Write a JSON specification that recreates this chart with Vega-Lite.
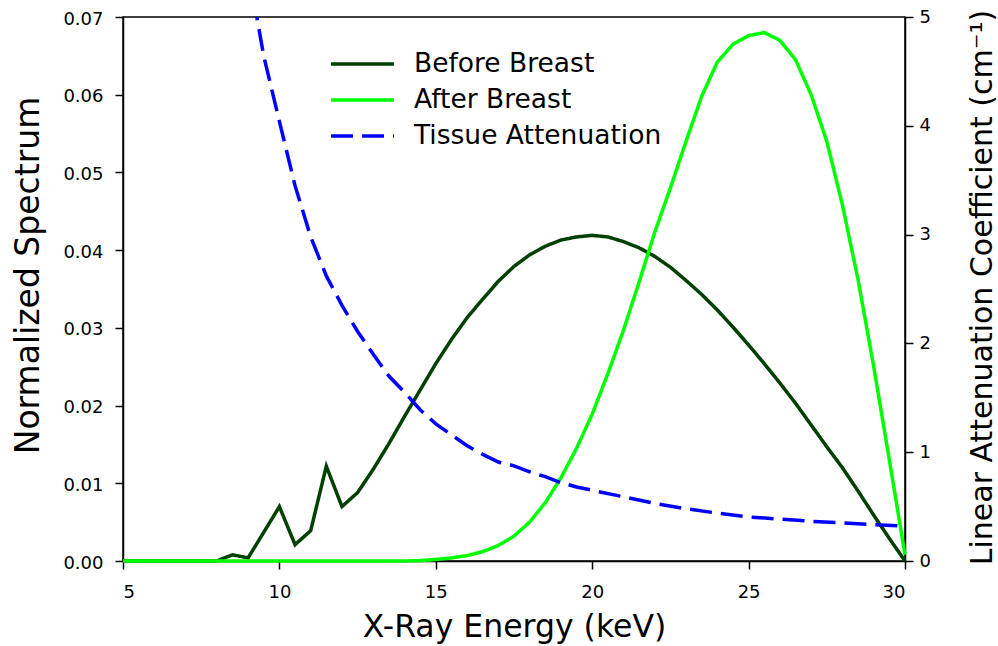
{
  "$schema": "https://vega.github.io/schema/vega-lite/v6.json",
  "width": 782,
  "height": 544,
  "autosize": {"type": "none"},
  "padding": {"left": 123, "top": 17, "right": 93, "bottom": 85},
  "background": "white",
  "config": {
    "view": {"stroke": "black", "strokeWidth": 1.5},
    "font": "DejaVu Sans",
    "axis": {
      "grid": false,
      "domainColor": "black",
      "domainWidth": 1.5,
      "tickColor": "black",
      "tickWidth": 1.5,
      "tickSize": 8,
      "labelFont": "DejaVu Sans",
      "labelFontSize": 18,
      "labelColor": "black",
      "titleFont": "DejaVu Sans",
      "titleFontWeight": "normal",
      "titleColor": "black"
    },
    "legend": {
      "orient": "none",
      "legendX": 206,
      "legendY": 30,
      "padding": 0,
      "symbolType": "stroke",
      "symbolSize": 3969,
      "symbolStrokeWidth": 3.5,
      "labelFont": "DejaVu Sans",
      "labelFontSize": 26.5,
      "labelColor": "black",
      "labelOffset": 18,
      "labelLimit": 500,
      "clipHeight": 34,
      "rowPadding": 2,
      "title": null
    }
  },
  "data": {
    "values": [
      {"e": 5, "s": "Before Breast", "v": 0},
      {"e": 5.5, "s": "Before Breast", "v": 0},
      {"e": 6, "s": "Before Breast", "v": 0},
      {"e": 6.5, "s": "Before Breast", "v": 0},
      {"e": 7, "s": "Before Breast", "v": 0},
      {"e": 7.5, "s": "Before Breast", "v": 0},
      {"e": 8, "s": "Before Breast", "v": 0},
      {"e": 8.5, "s": "Before Breast", "v": 0.0008},
      {"e": 9, "s": "Before Breast", "v": 0.0004},
      {"e": 9.5, "s": "Before Breast", "v": 0.0037},
      {"e": 10, "s": "Before Breast", "v": 0.0070},
      {"e": 10.5, "s": "Before Breast", "v": 0.0021},
      {"e": 11, "s": "Before Breast", "v": 0.0039},
      {"e": 11.5, "s": "Before Breast", "v": 0.0122},
      {"e": 12, "s": "Before Breast", "v": 0.0070},
      {"e": 12.5, "s": "Before Breast", "v": 0.0088},
      {"e": 13, "s": "Before Breast", "v": 0.0118},
      {"e": 13.5, "s": "Before Breast", "v": 0.0151},
      {"e": 14, "s": "Before Breast", "v": 0.0186},
      {"e": 14.5, "s": "Before Breast", "v": 0.0220},
      {"e": 15, "s": "Before Breast", "v": 0.0254},
      {"e": 15.5, "s": "Before Breast", "v": 0.0285},
      {"e": 16, "s": "Before Breast", "v": 0.0313},
      {"e": 16.5, "s": "Before Breast", "v": 0.0337},
      {"e": 17, "s": "Before Breast", "v": 0.0360},
      {"e": 17.5, "s": "Before Breast", "v": 0.0379},
      {"e": 18, "s": "Before Breast", "v": 0.0394},
      {"e": 18.5, "s": "Before Breast", "v": 0.0405},
      {"e": 19, "s": "Before Breast", "v": 0.0413},
      {"e": 19.5, "s": "Before Breast", "v": 0.0417},
      {"e": 20, "s": "Before Breast", "v": 0.0419},
      {"e": 20.5, "s": "Before Breast", "v": 0.0417},
      {"e": 21, "s": "Before Breast", "v": 0.0411},
      {"e": 21.5, "s": "Before Breast", "v": 0.0403},
      {"e": 22, "s": "Before Breast", "v": 0.0392},
      {"e": 22.5, "s": "Before Breast", "v": 0.0378},
      {"e": 23, "s": "Before Breast", "v": 0.0361},
      {"e": 23.5, "s": "Before Breast", "v": 0.0343},
      {"e": 24, "s": "Before Breast", "v": 0.0323},
      {"e": 24.5, "s": "Before Breast", "v": 0.0301},
      {"e": 25, "s": "Before Breast", "v": 0.0278},
      {"e": 25.5, "s": "Before Breast", "v": 0.0254},
      {"e": 26, "s": "Before Breast", "v": 0.0229},
      {"e": 26.5, "s": "Before Breast", "v": 0.0203},
      {"e": 27, "s": "Before Breast", "v": 0.0175},
      {"e": 27.5, "s": "Before Breast", "v": 0.0147},
      {"e": 28, "s": "Before Breast", "v": 0.0120},
      {"e": 28.5, "s": "Before Breast", "v": 0.0090},
      {"e": 29, "s": "Before Breast", "v": 0.0059},
      {"e": 29.5, "s": "Before Breast", "v": 0.0029},
      {"e": 30, "s": "Before Breast", "v": 0.0},
      {"e": 5, "s": "After Breast", "v": 0},
      {"e": 6, "s": "After Breast", "v": 0},
      {"e": 7, "s": "After Breast", "v": 0},
      {"e": 8, "s": "After Breast", "v": 0},
      {"e": 9, "s": "After Breast", "v": 0},
      {"e": 10, "s": "After Breast", "v": 0},
      {"e": 11, "s": "After Breast", "v": 0},
      {"e": 12, "s": "After Breast", "v": 0},
      {"e": 13, "s": "After Breast", "v": 0},
      {"e": 14, "s": "After Breast", "v": 0},
      {"e": 14.5, "s": "After Breast", "v": 0.00005},
      {"e": 15, "s": "After Breast", "v": 0.0002},
      {"e": 15.5, "s": "After Breast", "v": 0.0004},
      {"e": 16, "s": "After Breast", "v": 0.0007},
      {"e": 16.5, "s": "After Breast", "v": 0.0012},
      {"e": 17, "s": "After Breast", "v": 0.0020},
      {"e": 17.5, "s": "After Breast", "v": 0.0032},
      {"e": 18, "s": "After Breast", "v": 0.0050},
      {"e": 18.5, "s": "After Breast", "v": 0.0075},
      {"e": 19, "s": "After Breast", "v": 0.0107},
      {"e": 19.5, "s": "After Breast", "v": 0.0145},
      {"e": 20, "s": "After Breast", "v": 0.0189},
      {"e": 20.5, "s": "After Breast", "v": 0.0241},
      {"e": 21, "s": "After Breast", "v": 0.0297},
      {"e": 21.5, "s": "After Breast", "v": 0.0359},
      {"e": 22, "s": "After Breast", "v": 0.0423},
      {"e": 22.5, "s": "After Breast", "v": 0.0480},
      {"e": 23, "s": "After Breast", "v": 0.0540},
      {"e": 23.5, "s": "After Breast", "v": 0.0598},
      {"e": 24, "s": "After Breast", "v": 0.0642},
      {"e": 24.5, "s": "After Breast", "v": 0.0665},
      {"e": 25, "s": "After Breast", "v": 0.0676},
      {"e": 25.5, "s": "After Breast", "v": 0.0680},
      {"e": 26, "s": "After Breast", "v": 0.0670},
      {"e": 26.5, "s": "After Breast", "v": 0.0645},
      {"e": 27, "s": "After Breast", "v": 0.0600},
      {"e": 27.5, "s": "After Breast", "v": 0.0540},
      {"e": 28, "s": "After Breast", "v": 0.0458},
      {"e": 28.5, "s": "After Breast", "v": 0.0362},
      {"e": 29, "s": "After Breast", "v": 0.0250},
      {"e": 29.5, "s": "After Breast", "v": 0.0130},
      {"e": 30, "s": "After Breast", "v": 0.0008},
      {"e": 9, "s": "Tissue Attenuation", "v": 5.45},
      {"e": 9.5, "s": "Tissue Attenuation", "v": 4.64},
      {"e": 10, "s": "Tissue Attenuation", "v": 4.04},
      {"e": 10.5, "s": "Tissue Attenuation", "v": 3.45},
      {"e": 11, "s": "Tissue Attenuation", "v": 2.98},
      {"e": 11.5, "s": "Tissue Attenuation", "v": 2.62},
      {"e": 12, "s": "Tissue Attenuation", "v": 2.35},
      {"e": 12.5, "s": "Tissue Attenuation", "v": 2.11},
      {"e": 13, "s": "Tissue Attenuation", "v": 1.90},
      {"e": 13.5, "s": "Tissue Attenuation", "v": 1.70},
      {"e": 14, "s": "Tissue Attenuation", "v": 1.55},
      {"e": 14.5, "s": "Tissue Attenuation", "v": 1.39},
      {"e": 15, "s": "Tissue Attenuation", "v": 1.26},
      {"e": 15.5, "s": "Tissue Attenuation", "v": 1.16},
      {"e": 16, "s": "Tissue Attenuation", "v": 1.06},
      {"e": 16.5, "s": "Tissue Attenuation", "v": 0.98},
      {"e": 17, "s": "Tissue Attenuation", "v": 0.91},
      {"e": 17.5, "s": "Tissue Attenuation", "v": 0.875},
      {"e": 18, "s": "Tissue Attenuation", "v": 0.82},
      {"e": 18.5, "s": "Tissue Attenuation", "v": 0.775},
      {"e": 19, "s": "Tissue Attenuation", "v": 0.72},
      {"e": 19.5, "s": "Tissue Attenuation", "v": 0.68},
      {"e": 20, "s": "Tissue Attenuation", "v": 0.65},
      {"e": 21, "s": "Tissue Attenuation", "v": 0.59},
      {"e": 22, "s": "Tissue Attenuation", "v": 0.53},
      {"e": 23, "s": "Tissue Attenuation", "v": 0.48},
      {"e": 24, "s": "Tissue Attenuation", "v": 0.44},
      {"e": 25, "s": "Tissue Attenuation", "v": 0.405},
      {"e": 26, "s": "Tissue Attenuation", "v": 0.385},
      {"e": 27, "s": "Tissue Attenuation", "v": 0.365},
      {"e": 28, "s": "Tissue Attenuation", "v": 0.35},
      {"e": 29, "s": "Tissue Attenuation", "v": 0.335},
      {"e": 30, "s": "Tissue Attenuation", "v": 0.32}
    ]
  },
  "layer": [
    {
      "layer": [
        {
          "transform": [{"filter": "datum.s === 'Before Breast'"}],
          "mark": {"type": "line", "strokeWidth": 3.5},
          "encoding": {
            "x": {
              "field": "e", "type": "quantitative",
              "scale": {"domain": [5, 30], "nice": false, "zero": false},
              "axis": {
                "title": "X-Ray Energy (keV)", "titleFontSize": 31.5,
                "values": [5, 10, 15, 20, 25, 30], "labelPadding": 14,
                "titleX": 391, "titleY": 75, "titleBaseline": "alphabetic"
              }
            },
            "y": {
              "field": "v", "type": "quantitative",
              "scale": {"domain": [0, 0.07], "nice": false},
              "axis": {
                "title": "Normalized Spectrum", "titleFontSize": 33,
                "values": [0, 0.01, 0.02, 0.03, 0.04, 0.05, 0.06, 0.07],
                "format": ".2f", "labelPadding": 12, "labelOffset": 2,
                "titleX": -85, "titleY": 258, "titleBaseline": "alphabetic", "titleAngle": -90
              }
            },
            "color": {
              "field": "s", "type": "nominal",
              "scale": {"domain": ["Before Breast", "After Breast", "Tissue Attenuation"], "range": ["#004000", "#00FF00", "#0000FF"]}
            },
            "strokeDash": {
              "field": "s", "type": "nominal",
              "scale": {"domain": ["Before Breast", "After Breast", "Tissue Attenuation"], "range": [[1, 0], [1, 0], [22, 9]]}
            }
          }
        },
        {
          "transform": [{"filter": "datum.s === 'After Breast'"}],
          "mark": {"type": "line", "strokeWidth": 3.5},
          "encoding": {
            "x": {"field": "e", "type": "quantitative"},
            "y": {"field": "v", "type": "quantitative"},
            "color": {"field": "s", "type": "nominal"},
            "strokeDash": {"field": "s", "type": "nominal"}
          }
        }
      ]
    },
    {
      "transform": [{"filter": "datum.s === 'Tissue Attenuation'"}],
      "mark": {"type": "line", "strokeWidth": 3.5, "clip": true},
      "encoding": {
        "x": {"field": "e", "type": "quantitative"},
        "y": {
          "field": "v", "type": "quantitative",
          "scale": {"domain": [0, 5], "nice": false},
          "axis": {
            "orient": "right",
            "title": "Linear Attenuation Coefficient (cm⁻¹)", "titleFontSize": 30,
            "values": [0, 1, 2, 3, 4, 5], "labelPadding": 6,
            "titleX": 86, "titleY": 270, "titleBaseline": "alphabetic", "titleAngle": -90
          }
        },
        "color": {"field": "s", "type": "nominal"},
        "strokeDash": {"field": "s", "type": "nominal"}
      }
    }
  ],
  "resolve": {"scale": {"y": "independent"}}
}
